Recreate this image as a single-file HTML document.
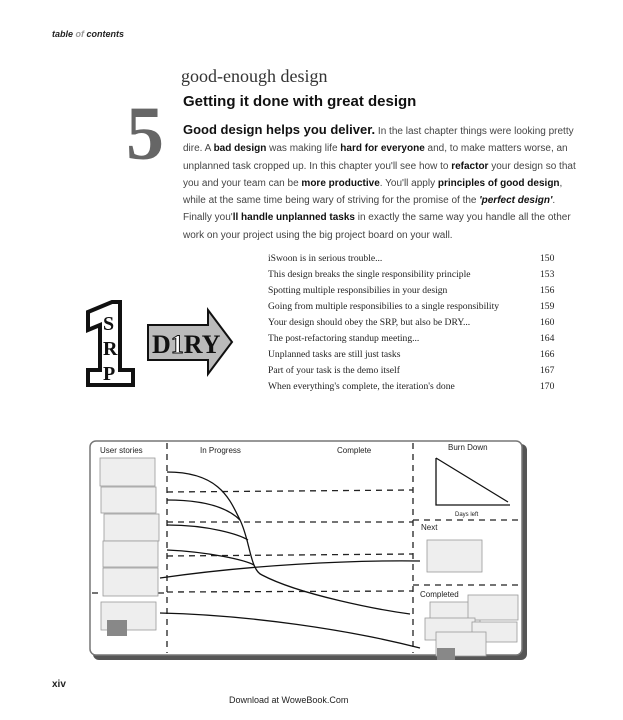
<!DOCTYPE html>
<html><head><meta charset="utf-8"><style>
body{margin:0;width:623px;height:720px;background:#fff;position:relative;overflow:hidden;font-family:"Liberation Sans",sans-serif;color:#222}
.a{position:absolute;white-space:nowrap}
.p{font-size:10px;line-height:17.3px;color:#444}
.p b{color:#111}
.toc{font-family:"Liberation Serif",serif;font-size:9.6px;color:#222}
</style></head><body>
<div class="a" style="left:52px;top:29px;font-size:9px;font-weight:bold;font-style:italic">table <span style="color:#999">of</span> contents</div>
<div class="a" style="left:181px;top:66px;font-family:'Liberation Serif',serif;font-size:18px;color:#333">good-enough design</div>
<div class="a" style="left:183px;top:93px;font-size:15px;font-weight:bold;color:#111">Getting it done with great design</div>
<div class="a" style="left:126px;top:96px;font-family:'Liberation Serif',serif;font-size:76px;font-weight:bold;color:#666;line-height:76px">5</div>
<div class="a p" style="left:183px;top:121px">
<span style="font-size:13px;font-weight:bold;color:#111">Good design helps you deliver.</span> In the last chapter things were looking pretty<br>
dire. A <b>bad design</b> was making life <b>hard for everyone</b> and, to make matters worse, an<br>
unplanned task cropped up. In this chapter you'll see how to <b>refactor</b> your design so that<br>
you and your team can be <b>more productive</b>. You'll apply <b>principles of good design</b>,<br>
while at the same time being wary of striving for the promise of the <b><i>'perfect design'</i></b>.<br>
Finally you'<b>ll handle unplanned tasks</b> in exactly the same way you handle all the other<br>
work on your project using the big project board on your wall.</div>
<div class="a toc" style="left:268px;top:251px;line-height:16px">iSwoon is in serious trouble...<br>This design breaks the single responsibility principle<br>Spotting multiple responsibilies in your design<br>Going from multiple responsibilies to a single responsibility<br>Your design should obey the SRP, but also be DRY...<br>The post-refactoring standup meeting...<br>Unplanned tasks are still just tasks<br>Part of your task is the demo itself<br>When everything's complete, the iteration's done</div>
<div class="a toc" style="left:540px;top:251px;line-height:16px">150<br>153<br>156<br>159<br>160<br>164<br>166<br>167<br>170</div>
<svg class="a" style="left:0;top:0" width="623" height="720">
<polygon points="88,312 112,302 120,302 120,370 133,370 133,385 88,385 88,370 100,370 100,325 88,330" fill="#fff" stroke="#111" stroke-width="4"/>
<text x="103" y="330" font-family="Liberation Serif" font-weight="bold" font-size="20" fill="#111">S</text>
<text x="103" y="355" font-family="Liberation Serif" font-weight="bold" font-size="20" fill="#111">R</text>
<text x="103" y="380" font-family="Liberation Serif" font-weight="bold" font-size="20" fill="#111">P</text>
<polygon points="148,325 208,325 208,310 232,342 208,374 208,360 148,360" fill="#bbb" stroke="#111" stroke-width="2"/>
<text x="152" y="353" font-family="Liberation Serif" font-weight="bold" font-size="26" fill="#111">D<tspan fill="#fff" stroke="#111" stroke-width="1">1</tspan>RY</text>
<rect x="93" y="444" width="434" height="216" rx="6" fill="#555"/>
<rect x="90" y="441" width="432" height="214" rx="6" fill="#fff" stroke="#777" stroke-width="1.5"/>
<g stroke="#222" stroke-width="1.3" stroke-dasharray="6,5" fill="none">
<line x1="167" y1="443" x2="167" y2="653"/><line x1="413" y1="443" x2="413" y2="653"/>
<line x1="413" y1="520" x2="520" y2="520"/><line x1="413" y1="585" x2="520" y2="585"/>
<line x1="92" y1="593" x2="167" y2="593"/>
<line x1="167" y1="492" x2="413" y2="490"/><line x1="167" y1="522" x2="413" y2="522"/>
<line x1="167" y1="556" x2="413" y2="554"/><line x1="167" y1="592" x2="413" y2="591"/>
</g>
<g font-family="Liberation Sans" font-size="8" fill="#222">
<text x="100" y="453">User stories</text><text x="200" y="453">In Progress</text><text x="337" y="453">Complete</text><text x="448" y="450">Burn Down</text>
<text x="421" y="530">Next</text><text x="420" y="597">Completed</text><text x="455" y="516" font-size="6">Days left</text></g>
<g fill="#eee" stroke="#999" stroke-width="0.8">
<rect x="100" y="458" width="55" height="28"/><rect x="101" y="487" width="55" height="26"/><rect x="104" y="514" width="55" height="27"/>
<rect x="103" y="541" width="55" height="26"/><rect x="103" y="568" width="55" height="28"/><rect x="101" y="602" width="55" height="28"/>
<rect x="427" y="540" width="55" height="32"/><rect x="430" y="602" width="50" height="22"/><rect x="468" y="595" width="50" height="25"/>
<rect x="425" y="618" width="50" height="22"/><rect x="472" y="622" width="45" height="20"/><rect x="436" y="632" width="50" height="24"/></g>
<rect x="107" y="620" width="20" height="16" fill="#888"/><rect x="437" y="648" width="18" height="12" fill="#888"/>
<g stroke="#111" stroke-width="1.3" fill="none">
<path d="M167,472 C220,472 230,500 240,520 C250,540 250,570 262,575 C300,595 380,610 410,614"/>
<path d="M167,500 C210,500 230,510 240,520"/><path d="M167,525 C210,525 240,535 248,540"/>
<path d="M167,550 C210,552 245,560 254,565"/><path d="M160,578 C250,565 350,560 420,561"/>
<path d="M160,613 C250,615 350,630 420,648"/>
<path d="M436,458 L436,505 L510,505 M436,458 L508,502"/>
</g>
</svg>
<div class="a" style="left:52px;top:679px;font-size:10px;font-weight:bold">xiv</div>
<div class="a" style="left:229px;top:695px;font-size:9px;color:#222">Download at WoweBook.Com</div>
</body></html>
